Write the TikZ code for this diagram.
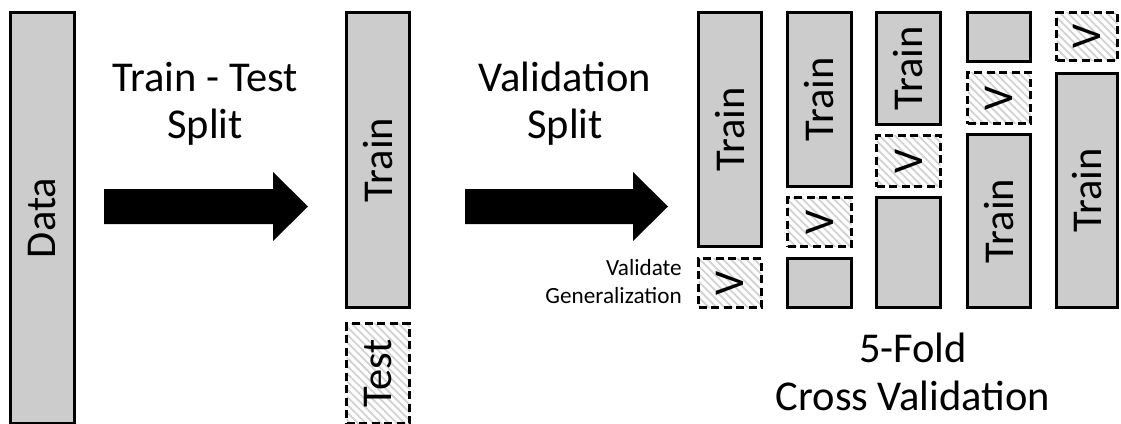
\documentclass[tikz,border=0pt]{standalone}
\usepackage{fontspec}
\setmainfont{Carlito}
\usetikzlibrary{patterns.meta}
\tikzset{
 solidbox/.style={draw=black, line width=3pt, fill=gray!40, inner sep=0pt, outer sep=0pt, font=\fontsize{42.5}{42.5}\selectfont},
 vbox/.style={draw=black, line width=3pt, dash pattern=on 8pt off 4.5pt, pattern={Lines[angle=-45,distance=5.5pt,line width=1.8pt]}, pattern color=gray!35, inner sep=0pt, outer sep=0pt, font=\fontsize{42.5}{42.5}\selectfont},
 bigtext/.style={font=\fontsize{42.5}{48}\selectfont, anchor=base, inner sep=0pt},
 smalltext/.style={font=\fontsize{23.2}{28}\selectfont, anchor=base east, inner sep=0pt},
 bigarrow/.style={fill=black}
}
\newcommand\blk[7]{\node[#6, minimum width={#4-#2-3}, minimum height={#5-#3-3}] (#1) at ({(#2+#4)/2},{(#3+#5)/2}) {\rotatebox{90}{#7}};}
\begin{document}
\begin{tikzpicture}[x=1pt,y=-1pt]
\path[use as bounding box, clip] (0,0) rectangle (1121,423);
% first column and arrow
\blk{data}{9}{11}{76}{425}{solidbox}{Data}
\fill[bigarrow] (104,189) -- (273,189) -- (273,172) -- (308,206.5) -- (273,241) -- (273,224) -- (104,224) -- cycle;
\node[bigtext] (tt1) at (205,91) {Train - Test};
\node[bigtext] (tt2) at (205,138) {Split};
% second column
\blk{train}{345}{11}{411}{309}{solidbox}{Train}
\blk{test}{345}{322}{411}{425}{vbox}{Test}
\fill[bigarrow] (465,189) -- (633,189) -- (633,172) -- (668,206.5) -- (633,241) -- (633,224) -- (465,224) -- cycle;
\node[bigtext] (vs1) at (565,91) {Validation};
\node[bigtext] (vs2) at (565,138) {Split};
\node[smalltext] (vg1) at (682,275) {Validate};
\node[smalltext] (vg2) at (682,303) {Generalization};
% folds
\blk{a1}{697}{11}{763}{248}{solidbox}{Train}
\blk{a2}{697}{257}{763}{309}{vbox}{V}
\blk{b1}{786}{11}{853}{188}{solidbox}{Train}
\blk{b2}{786}{196}{853}{248}{vbox}{V}
\blk{b3}{786}{257}{853}{309}{solidbox}{}
\blk{c1}{875}{11}{942}{126}{solidbox}{Train}
\blk{c2}{875}{134}{942}{188}{vbox}{V}
\blk{c3}{875}{196}{942}{309}{solidbox}{}
\blk{d1}{966}{11}{1032}{63}{solidbox}{}
\blk{d2}{966}{71}{1032}{125}{vbox}{V}
\blk{d3}{966}{133}{1032}{309}{solidbox}{Train}
\blk{e1}{1055}{11}{1119}{62}{vbox}{V}
\blk{e2}{1055}{72}{1119}{309}{solidbox}{Train}
\node[bigtext] (cv1) at (913,362) {5-Fold};
\node[bigtext] (cv2) at (913,410) {Cross Validation};
\end{tikzpicture}
\end{document}
